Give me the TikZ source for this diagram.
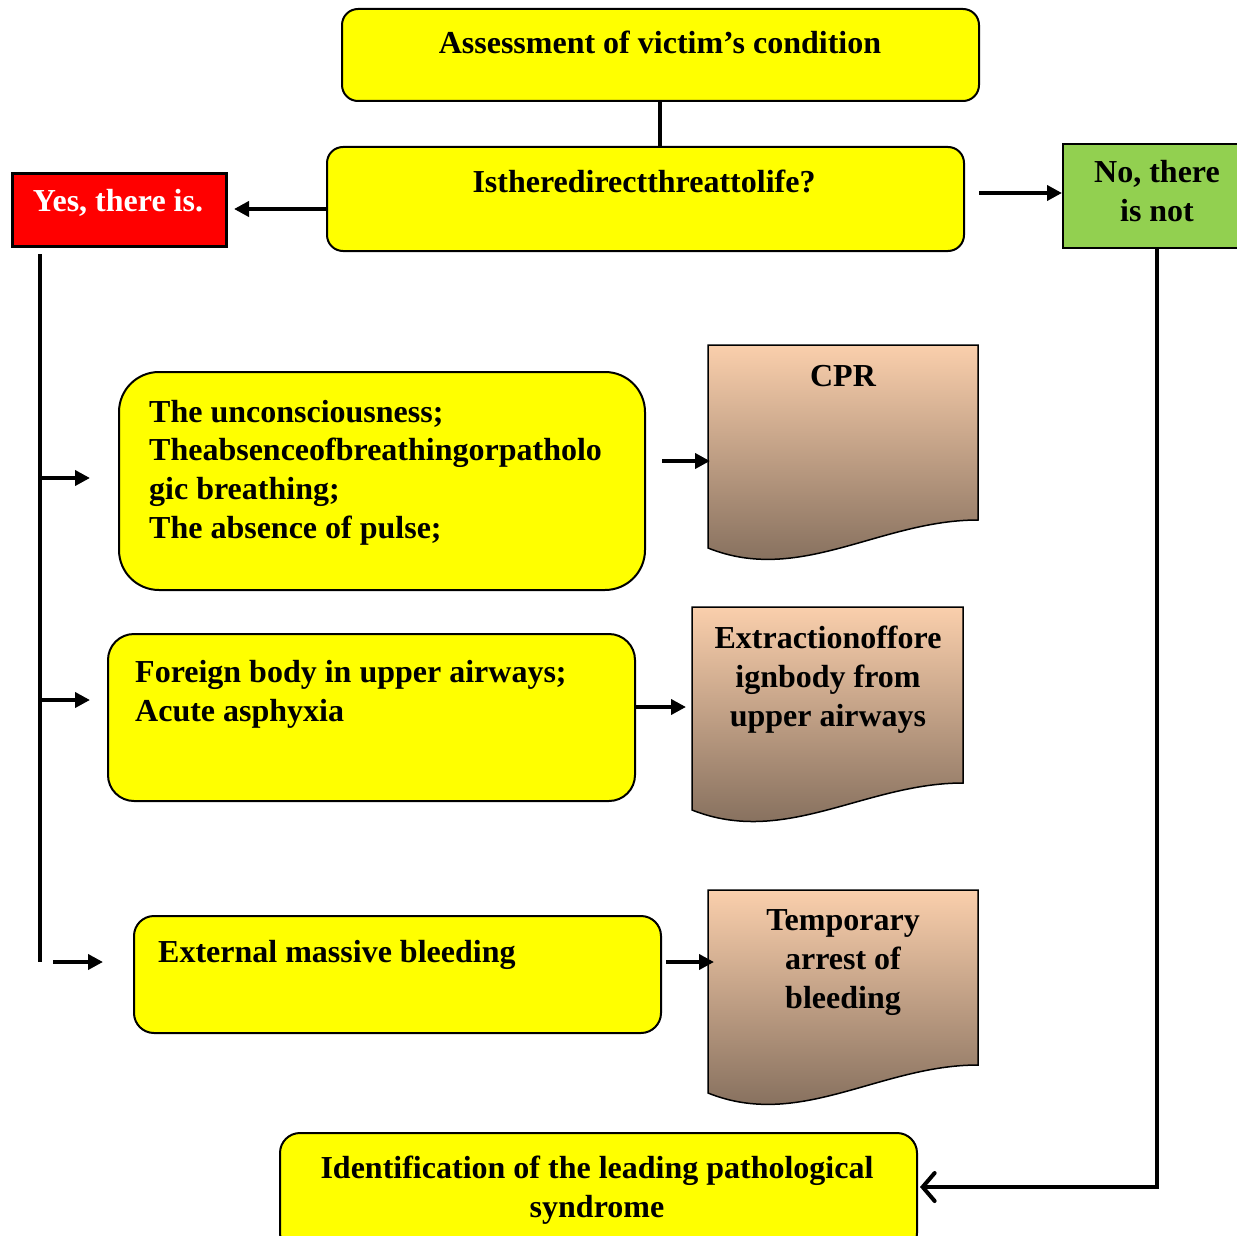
\documentclass[tikz,border=0pt]{standalone}
\usepackage{fontspec}
\setmainfont{Liberation Serif}
\usetikzlibrary{arrows.meta}
\definecolor{ybg}{RGB}{255,255,0}
\definecolor{redbg}{RGB}{255,0,0}
\definecolor{greenbg}{RGB}{146,208,80}
\definecolor{docTop}{RGB}{250,207,172}
\definecolor{docBot}{RGB}{122,102,86}
\begin{document}
\begin{tikzpicture}[x=1pt,y=-1pt,
  ybox/.style={draw=black, line width=2pt, fill=ybg, rounded corners=#1, anchor=north west, inner sep=0pt},
  ybox/.default=16pt,
  txt/.style={font=\fontsize{32}{38.6}\selectfont\bfseries, inner sep=0pt},
  doc/.style={draw=black, line width=1.5pt, top color=docTop, bottom color=docBot},
  arr/.style={line width=4pt, -{Triangle[length=15pt,width=15pt]}},
  conn/.style={line width=4.5pt}]
\useasboundingbox (0,0) rectangle (1237,1236);

% top
\node[ybox, minimum width=637pt, minimum height=92pt] (assess) at (341,8) {};
\node[txt, anchor=base] (assessT) at (660,54) {Assessment of victim’s condition};
\node[ybox, minimum width=637pt, minimum height=104pt] (quest) at (326,146) {};
\node[txt, anchor=base] (questT) at (644,192) {Istheredirectthreattolife?};
\draw[conn] (assess.south -| 660,0) -- (quest.north -| 660,0);

% yes / no
\node[draw=black, line width=3pt, fill=redbg, anchor=north west, minimum width=214pt, minimum height=73pt, inner sep=0pt] (yes) at (11,172) {};
\node[txt, text=white, anchor=base] (yesT) at (118,211) {Yes, there is.};
\node[draw=black, line width=2pt, fill=greenbg, anchor=north west, minimum width=190pt, minimum height=104pt, inner sep=0pt] (no) at (1062,143) {};
\node[txt, anchor=base, align=center] (noT) at (1157,221) {No, there\\is not};
\draw[arr] (quest.west |- 0,209) -- ([xshift=6pt]yes.east |- 0,209);
\coordinate (qR) at (979,193);
\draw[arr] (qR) -- (no.west |- qR);

% left spine
\coordinate (spTop) at (40,254);
\coordinate (spBot) at (40,962);
\draw[conn] (spTop) -- (spBot);

% box 1
\node[ybox=40pt, minimum width=526pt, minimum height=218pt] (b1) at (118,371) {};
\node[txt, anchor=base west, align=left] (b1T) at (149,538) {The unconsciousness;\\Theabsenceofbreathingorpatholo\\gic breathing;\\The absence of pulse;};
\draw[arr] (spTop |- 0,478) -- ([xshift=-28pt]b1.west |- 0,478);

% box 2
\node[ybox=26pt, minimum width=527pt, minimum height=167pt] (b2) at (107,633) {};
\node[txt, anchor=base west, align=left] (b2T) at (135,721) {Foreign body in upper airways;\\Acute asphyxia};
\draw[arr] (spTop |- 0,700) -- ([xshift=-17pt]b2.west |- 0,700);

% box 3
\node[ybox=20pt, minimum width=527pt, minimum height=117pt] (b3) at (133,915) {};
\node[txt, anchor=base west] (b3T) at (158,962) {External massive bleeding};
\coordinate (a3s) at (53,962);
\draw[arr] (a3s) -- ([xshift=-30pt]b3.west |- a3s);

% documents
\path[doc] (708,345) -- (978,345) -- (978,520) .. controls (880,520) and (800,585) .. (708,548) -- cycle;
\coordinate (d1L) at (708,461);
\node[txt, anchor=base] (d1T) at (843,386) {CPR};
\draw[arr] ([xshift=16pt]b1.east |- d1L) -- ([xshift=2pt]d1L);

\path[doc] (692,607) -- (963,607) -- (963,783) .. controls (865,783) and (785,847) .. (692,810) -- cycle;
\coordinate (d2L) at (692,707);
\node[txt, anchor=base, align=center] (d2T) at (828,726) {Extractionoffore\\ignbody from\\upper airways};
\draw[arr] (b2.east |- d2L) -- ([xshift=-6pt]d2L);

\path[doc] (708,890) -- (978,890) -- (978,1065) .. controls (880,1065) and (800,1130) .. (708,1093) -- cycle;
\coordinate (d3L) at (714,962);
\node[txt, anchor=base, align=center] (d3T) at (843,1008) {Temporary\\arrest of\\bleeding};
\draw[arr] ([xshift=4pt]b3.east |- d3L) -- (d3L);

% bottom
\node[ybox=20pt, minimum width=637pt, minimum height=120pt] (fin) at (279,1132) {};
\node[txt, anchor=base, align=center] (finT) at (597,1217) {Identification of the leading pathological\\syndrome};
\coordinate (noB) at (1157,249);
\draw[line width=4pt, -{Straight Barb[length=12pt,width=28pt,line width=4pt,line cap=round]}] (noB) -- (1157,1187) -- ([xshift=2pt]fin.east |- 0,1187);
\end{tikzpicture}
\end{document}
